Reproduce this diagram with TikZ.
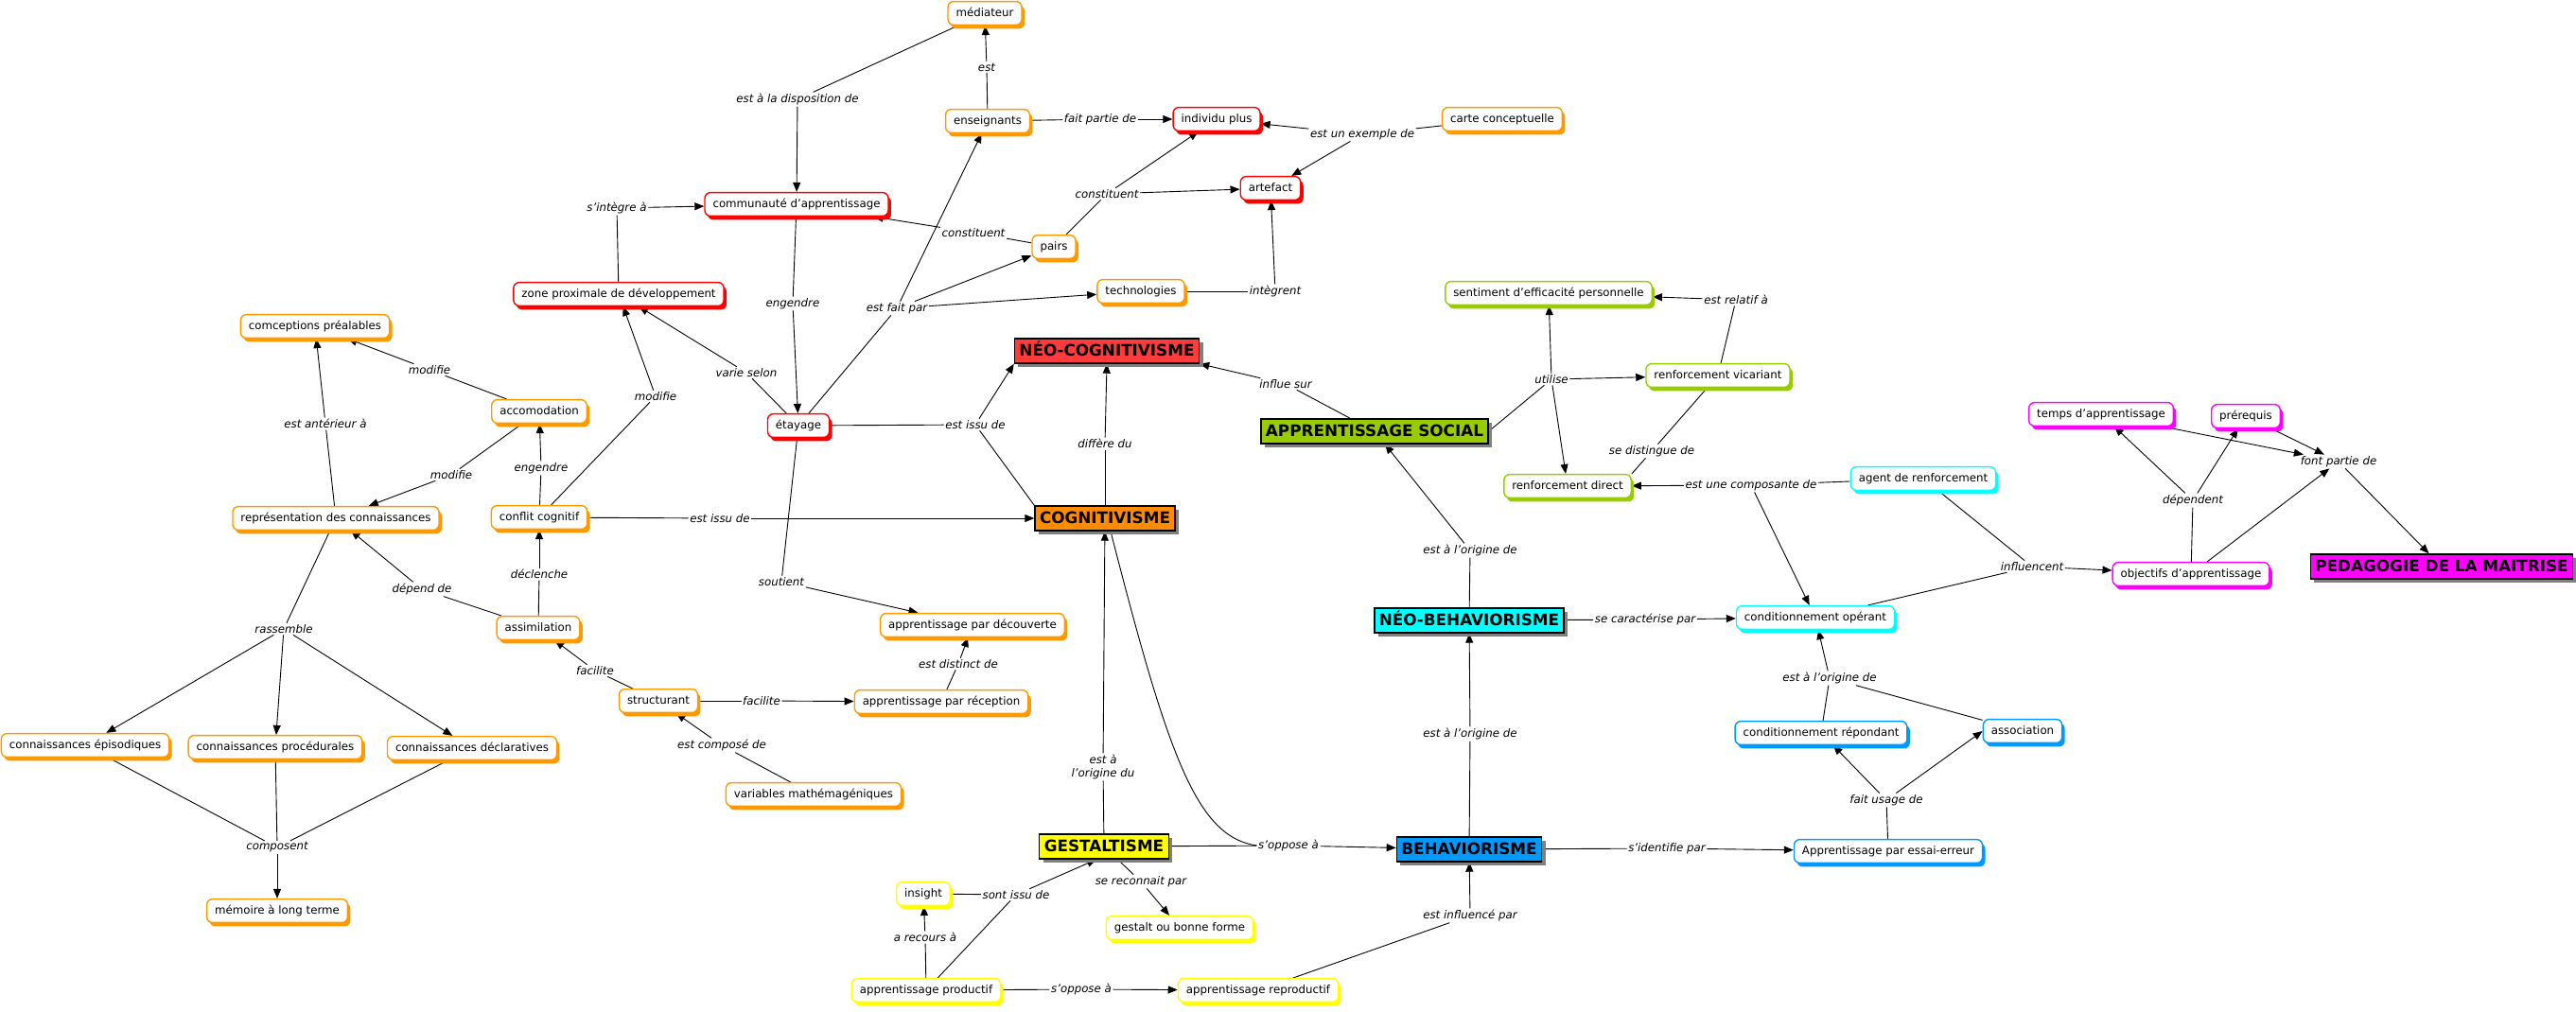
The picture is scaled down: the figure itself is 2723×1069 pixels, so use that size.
\documentclass[tikz,border=0pt]{standalone}
\usepackage{fontspec}
\setmainfont{DejaVu Sans}
\usetikzlibrary{arrows.meta,shadows}
\definecolor{cOr}{HTML}{FF9900}
\definecolor{cRe}{HTML}{FF0000}
\definecolor{cGr}{HTML}{99CC00}
\definecolor{cCy}{HTML}{00FFFF}
\definecolor{cBl}{HTML}{0099FF}
\definecolor{cMa}{HTML}{FF00FF}
\definecolor{cYe}{HTML}{FFFF00}
\definecolor{fRe}{HTML}{FF3B3B}
\definecolor{fOr}{HTML}{FF8C00}
\pgfdeclarelayer{background}
\pgfsetlayers{background,main}
\begin{document}
\begin{tikzpicture}[x=1pt,y=-1pt,
  cn/.style={draw=#1, line width=1.4pt, fill=white, rounded corners=6pt,
    inner xsep=8.5pt, inner ysep=6.5pt, text height=9pt, text depth=2.8pt,
    font=\fontsize{11.8}{14}\selectfont,
    drop shadow={shadow xshift=3pt, shadow yshift=-4pt, fill=#1, opacity=1}},
  tn/.style={draw=black, line width=1.4pt, fill=#1, inner xsep=5pt, inner ysep=6.5pt,
    text height=12pt, text depth=1pt, font=\fontsize{16.8}{18}\selectfont\bfseries,
    drop shadow={shadow xshift=4pt, shadow yshift=-4pt, fill=black!50, opacity=1}},
  lab/.style={font=\fontsize{11.8}{14}\selectfont\itshape, inner sep=1.5pt, align=center},
  ln/.style={line width=0.9pt, black},
  ar/.style={ln, -{Triangle[length=10pt,width=8pt]}}]

% concept nodes
\node[cn=cOr] (med) at (1041,14) {médiateur};
\node[cn=cOr] (ens) at (1044,128) {enseignants};
\node[cn=cRe] (ind) at (1286,126) {individu plus};
\node[cn=cOr] (carte) at (1588,126) {carte conceptuelle};
\node[cn=cRe] (art) at (1343,199) {artefact};
\node[cn=cOr] (pairs) at (1114,261) {pairs};
\node[cn=cOr] (tech) at (1206,308) {technologies};
\node[cn=cRe] (comm) at (842,216) {communauté d'apprentissage};
\node[cn=cRe] (zpd) at (654,311) {zone proximale de développement};
\node[cn=cOr] (conc) at (333,345) {comceptions préalables};
\node[cn=cOr] (acc) at (570,435) {accomodation};
\node[cn=cRe] (eta) at (844,450) {étayage};
\node[cn=cOr] (repr) at (355,548) {représentation des connaissances};
\node[cn=cOr] (conf) at (570,547) {conflit cognitif};
\node[tn=fRe] (neocog) at (1170,371) {NÉO-COGNITIVISME};
\node[tn=fOr] (cog) at (1168,548) {COGNITIVISME};
\node[tn=cGr] (appsoc) at (1453,456) {APPRENTISSAGE SOCIAL};
\node[cn=cGr] (sent) at (1637,310) {sentiment d'efficacité personnelle};
\node[cn=cGr] (rvic) at (1816,397) {renforcement vicariant};
\node[cn=cGr] (rdir) at (1657,514) {renforcement direct};
\node[cn=cCy] (agent) at (2033,506) {agent de renforcement};
\node[cn=cMa] (temps) at (2221,438) {temps d'apprentissage};
\node[cn=cMa] (prereq) at (2374,440) {prérequis};
\node[cn=cMa] (obj) at (2316,607) {objectifs d'apprentissage};
\node[tn=cMa] (peda) at (2581,599) {PEDAGOGIE DE LA MAITRISE};
\node[cn=cCy] (cop) at (1919,653) {conditionnement opérant};
\node[cn=cBl] (crep) at (1925,775) {conditionnement répondant};
\node[cn=cBl] (assoc) at (2138,773) {association};
\node[cn=cBl] (essai) at (1996,900) {Apprentissage par essai-erreur};
\node[cn=cOr] (decouv) at (1028,661) {apprentissage par découverte};
\node[cn=cOr] (recep) at (995,742) {apprentissage par réception};
\node[tn=cCy] (neobeh) at (1553,656) {NÉO-BEHAVIORISME};
\node[tn=cYe] (gest) at (1167,895) {GESTALTISME};
\node[tn=cBl] (beh) at (1553,898) {BEHAVIORISME};
\node[cn=cYe] (insight) at (976,945) {insight};
\node[cn=cYe] (gform) at (1247,981) {gestalt ou bonne forme};
\node[cn=cYe] (prod) at (979,1047) {apprentissage productif};
\node[cn=cYe] (reprod) at (1330,1047) {apprentissage reproductif};
\node[cn=cOr] (assim) at (569,664) {assimilation};
\node[cn=cOr] (struct) at (696,741) {structurant};
\node[cn=cOr] (varm) at (860,840) {variables mathémagéniques};
\node[cn=cOr] (epi) at (90,788) {connaissances épisodiques};
\node[cn=cOr] (proc) at (291,790) {connaissances procédurales};
\node[cn=cOr] (decl) at (499,791) {connaissances déclaratives};
\node[cn=cOr] (mem) at (293,963) {mémoire à long terme};

% linking phrases
\node[lab] (ldisp) at (843,105) {est à la disposition de};
\node[lab] (lest) at (1043,71) {est};
\node[lab] (lfpd) at (1163,126) {fait partie de};
\node[lab] (lexe) at (1440,142) {est un exemple de};
\node[lab] (lconsta) at (1170,205) {constituent};
\node[lab] (lconstb) at (1029,246) {constituent};
\node[lab] (linteg) at (1348,308) {intègrent};
\node[lab] (lfait) at (948,326) {est fait par};
\node[lab] (lenga) at (838,321) {engendre};
\node[lab] (lsint) at (652,220) {s'intègre à};
\node[lab] (lvarie) at (789,394) {varie selon};
\node[lab] (lmoda) at (693,419) {modifie};
\node[lab] (lmodb) at (454,391) {modifie};
\node[lab] (lant) at (344,448) {est antérieur à};
\node[lab] (lmodc) at (477,502) {modifie};
\node[lab] (lengb) at (572,495) {engendre};
\node[lab] (lissua) at (1031,449) {est issu de};
\node[lab] (lissub) at (761,548) {est issu de};
\node[lab] (ldecl) at (570,607) {déclenche};
\node[lab] (ldep) at (446,623) {dépend de};
\node[lab] (lrass) at (300,665) {rassemble};
\node[lab] (lfaca) at (629,709) {facilite};
\node[lab] (lfacb) at (805,741) {facilite};
\node[lab] (lcomp) at (763,788) {est composé de};
\node[lab] (lsout) at (826,615) {soutient};
\node[lab] (lcompo) at (293,896) {composent};
\node[lab] (ldist) at (1013,702) {est distinct de};
\node[lab] (ldiff) at (1168,469) {diffère du};
\node[lab] (linflue) at (1359,406) {influe sur};
\node[lab] (lutil) at (1640,401) {utilise};
\node[lab] (lrel) at (1835,317) {est relatif à};
\node[lab] (ldisting) at (1746,477) {se distingue de};
\node[lab] (lcompos) at (1851,513) {est une composante de};
\node[lab] (linfl) at (2148,599) {influencent};
\node[lab] (ldependent) at (2318,529) {dépendent};
\node[lab] (lfpdb) at (2472,488) {font partie de};
\node[lab] (lorigA) at (1554,582) {est à l'origine de};
\node[lab] (lcarac) at (1739,655) {se caractérise par};
\node[lab] (lorigB) at (1554,776) {est à l'origine de};
\node[lab] (lorigC) at (1934,717) {est à l'origine de};
\node[lab] (lusage) at (1994,846) {fait usage de};
\node[lab] (lident) at (1762,897) {s'identifie par};
\node[lab] (lorigdu) at (1166,811) {est à\\l'origine du};
\node[lab] (loppa) at (1362,894) {s'oppose à};
\node[lab] (loppb) at (1143,1046) {s'oppose à};
\node[lab] (linflb) at (1554,968) {est influencé par};
\node[lab] (lreco) at (1206,932) {se reconnait par};
\node[lab] (lsont) at (1074,946) {sont issu de};
\node[lab] (lrec) at (978,991) {a recours à};

\begin{pgfonlayer}{background}
\fill[white] (0,0) rectangle (2723,1069);
\draw[ln] (med) -- (ldisp); \draw[ar] (ldisp) -- (comm);
\draw[ln] (ens) -- (lest); \draw[ar] (lest) -- (med);
\draw[ln] (ens) -- (lfpd); \draw[ar] (lfpd) -- (ind);
\draw[ln] (carte) -- (lexe); \draw[ar] (lexe) -- (ind); \draw[ar] (lexe) -- (art);
\draw[ln] (pairs) -- (lconsta); \draw[ar] (lconsta) -- (ind); \draw[ar] (lconsta) -- (art);
\draw[ln] (pairs) -- (lconstb); \draw[ar] (lconstb) -- (comm);
\draw[ln] (tech) -- (linteg); \draw[ar] (linteg) -- (art);
\draw[ln] (eta) -- (lfait); \draw[ar] (lfait) -- (ens); \draw[ar] (lfait) -- (pairs); \draw[ar] (lfait) -- (tech);
\draw[ln] (comm) -- (lenga); \draw[ar] (lenga) -- (eta);
\draw[ln] (zpd) -- (lsint); \draw[ar] (lsint) -- (comm);
\draw[ln] (eta) -- (lvarie); \draw[ar] (lvarie) -- (zpd);
\draw[ln] (conf) -- (lmoda); \draw[ar] (lmoda) -- (zpd);
\draw[ln] (acc) -- (lmodb); \draw[ar] (lmodb) -- (conc);
\draw[ln] (repr) -- (lant); \draw[ar] (lant) -- (conc);
\draw[ln] (acc) -- (lmodc); \draw[ar] (lmodc) -- (repr);
\draw[ln] (conf) -- (lengb); \draw[ar] (lengb) -- (acc);
\draw[ln] (assim) -- (ldecl); \draw[ar] (ldecl) -- (conf);
\draw[ln] (assim) -- (ldep); \draw[ar] (ldep) -- (repr);
\draw[ln] (struct) -- (lfaca); \draw[ar] (lfaca) -- (assim);
\draw[ln] (struct) -- (lfacb); \draw[ar] (lfacb) -- (recep);
\draw[ln] (varm) -- (lcomp); \draw[ar] (lcomp) -- (struct);
\draw[ln] (repr) -- (lrass); \draw[ar] (lrass) -- (epi); \draw[ar] (lrass) -- (proc); \draw[ar] (lrass) -- (decl);
\draw[ln] (epi) -- (lcompo); \draw[ln] (proc) -- (lcompo); \draw[ln] (decl) -- (lcompo); \draw[ar] (lcompo) -- (mem);
\draw[ln] (conf) -- (lissub); \draw[ar] (lissub) -- (cog);
\draw[ln] (eta) -- (lissua); \draw[ar] (lissua) -- (neocog.south west); \draw[ln] (lissua) -- (cog.north west);
\draw[ln] (cog) -- (ldiff); \draw[ar] (ldiff) -- (neocog.south);
\draw[ln] (appsoc) -- (linflue); \draw[ar] (linflue) -- (neocog.south east);
\draw[ln] (appsoc.east) -- (lutil); \draw[ar] (lutil) -- (sent); \draw[ar] (lutil) -- (rvic); \draw[ar] (lutil) -- (rdir);
\draw[ln] (rvic) -- (lrel); \draw[ar] (lrel) -- (sent);
\draw[ln] (rvic) -- (ldisting); \draw[ln] (ldisting) -- (rdir.north east);
\draw[ln] (agent) -- (lcompos); \draw[ar] (lcompos) -- (rdir); \draw[ar] (lcompos) -- (cop);
\draw[ln] (agent) -- (linfl); \draw[ln] (cop) -- (linfl); \draw[ar] (linfl) -- (obj);
\draw[ln] (obj) -- (ldependent); \draw[ar] (ldependent) -- (temps); \draw[ar] (ldependent) -- (prereq);
\draw[ar] (temps) -- (lfpdb); \draw[ar] (prereq) -- (lfpdb); \draw[ar] (obj) -- (lfpdb); \draw[ar] (lfpdb) -- (peda);
\draw[ln] (neobeh) -- (lorigA); \draw[ar] (lorigA) -- (appsoc);
\draw[ln] (neobeh) -- (lcarac); \draw[ar] (lcarac) -- (cop);
\draw[ln] (beh) -- (lorigB); \draw[ar] (lorigB) -- (neobeh);
\draw[ln] (beh) -- (lident); \draw[ar] (lident) -- (essai);
\draw[ln] (essai) -- (lusage); \draw[ar] (lusage) -- (crep); \draw[ar] (lusage) -- (assoc.west);
\draw[ln] (crep) -- (lorigC); \draw[ln] (assoc) -- (lorigC); \draw[ar] (lorigC) -- (cop);
\draw[ln] (gest) -- (lorigdu); \draw[ar] (lorigdu) -- (cog);
\draw[ln] (gest) -- (loppa); \draw[ar] (loppa) -- (beh);
\draw[ln] ([xshift=6pt]cog.south) .. controls (1235,800) and (1265,885) .. (loppa.west);
\draw[ln] (gest) -- (lreco); \draw[ar] (lreco) -- (gform);
\draw[ln] (prod) -- (lsont); \draw[ln] (insight) -- (lsont); \draw[ar] (lsont) -- ([xshift=-8pt]gest.south);
\draw[ln] (prod) -- (lrec); \draw[ar] (lrec) -- (insight);
\draw[ln] (prod) -- (loppb); \draw[ar] (loppb) -- (reprod);
\draw[ln] (reprod) -- (linflb); \draw[ar] (linflb) -- (beh);
\draw[ln] (eta) -- (lsout); \draw[ar] (lsout) -- (decouv);
\draw[ln] (recep) -- (ldist); \draw[ar] (ldist) -- (decouv);
\end{pgfonlayer}
\useasboundingbox (0,0) rectangle (2723,1069);
\end{tikzpicture}
\end{document}
